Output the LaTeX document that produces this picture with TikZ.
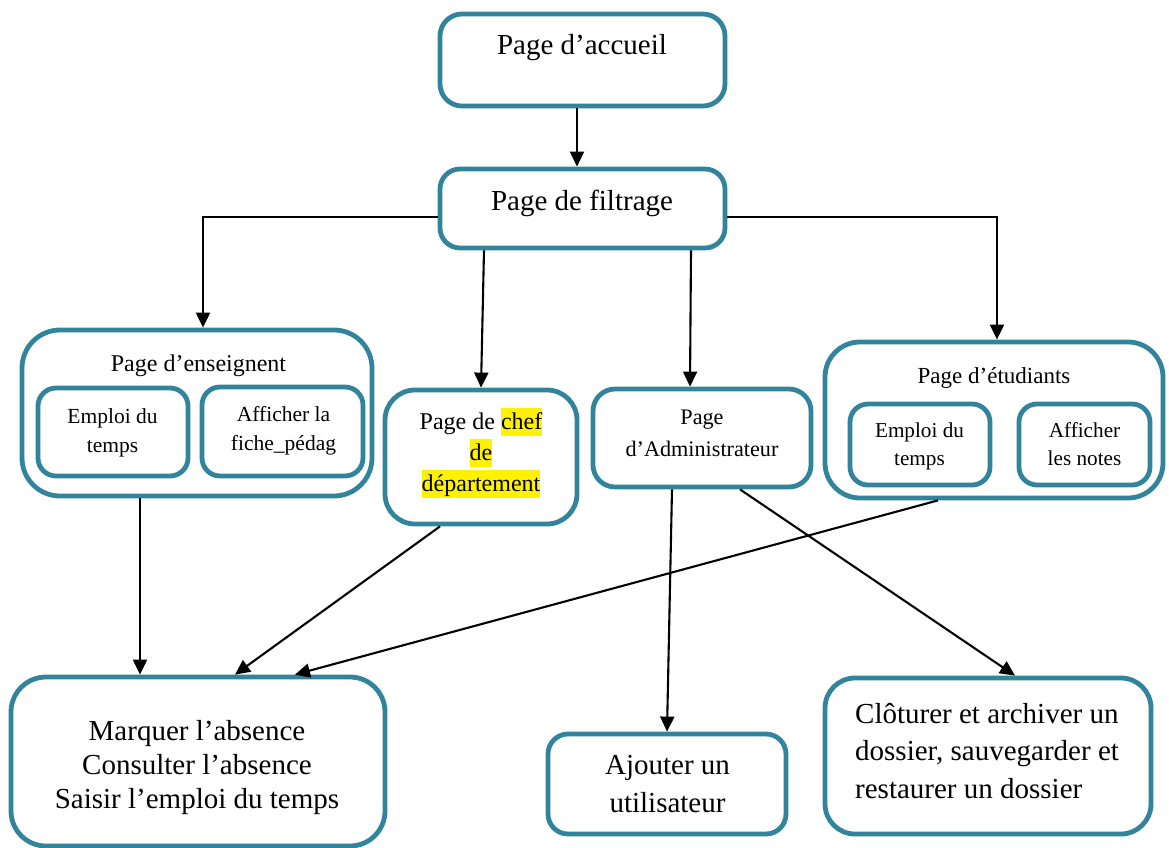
\documentclass[tikz,border=0pt]{standalone}
\usepackage{fontspec}
\setmainfont{Liberation Serif}
\usetikzlibrary{arrows.meta,calc}
\definecolor{frame}{HTML}{31849B}
% yellow highlight behind a word, with a fixed strut height
\newcommand\hlt[1]{{\setlength{\fboxsep}{0pt}\colorbox{yellow}{\rule[-7bp]{0pt}{28bp}#1}}}

\begin{document}
\begin{tikzpicture}[x=1bp,y=-1bp,
  box/.style={draw=frame, line width=4.8bp, fill=white, inner sep=0pt, rounded corners=#1},
  box/.default=20bp,
  lbl/.style={inner sep=0pt, align=center},
  link/.style={line width=2.1bp, -{Triangle[length=15bp,width=14bp]}},
]
\useasboundingbox (0,0) rectangle (1169,848);

% entry and filter pages
\node[box=22bp, minimum width=285bp, minimum height=92bp] (acc) at (582.5,60) {};
\node[font=\fontsize{29bp}{34bp}\selectfont, inner sep=0pt, anchor=base] (accT) at (582,54) {Page d’accueil};
\node[box, minimum width=285bp, minimum height=79bp] (fil) at (582.5,208.5) {};
\node[font=\fontsize{29bp}{34bp}\selectfont, inner sep=0pt, anchor=base] (filT) at (582,210) {Page de filtrage};

% teacher page
\node[box=38bp, minimum width=350bp, minimum height=166bp] (ens) at (197,413) {};
\node[font=\fontsize{24bp}{29bp}\selectfont, inner sep=0pt, anchor=base] (ensT) at (198.5,371) {Page d’enseignent};
\node[box=18bp, minimum width=150bp, minimum height=88bp] (ensA) at (113,432) {};
\node[font=\fontsize{21.5bp}{29bp}\selectfont, lbl] (ensAT) at (112.5,432.5) {Emploi du\\temps};
\node[box=18bp, minimum width=161bp, minimum height=89bp] (ensB) at (282.5,431.5) {};
\node[font=\fontsize{21.5bp}{29bp}\selectfont, lbl] (ensBT) at (283.5,430.8) {Afficher la\\fiche\_pédag};

% head of department page
\node[box=30bp, minimum width=192bp, minimum height=134bp] (chef) at (481,457) {};
\node[font=\fontsize{24bp}{31bp}\selectfont, lbl] (chefT) at (481,453) {Page de \hlt{chef}\\\hlt{de}\\\hlt{département}};

% administrator page
\node[box=22bp, minimum width=218bp, minimum height=98bp] (adm) at (702,438) {};
\node[font=\fontsize{22.2bp}{32bp}\selectfont, lbl] (admT) at (702,433.5) {Page\\d’Administrateur};

% student page
\node[box=35bp, minimum width=338bp, minimum height=156bp] (etu) at (994,420) {};
\node[font=\fontsize{23bp}{28bp}\selectfont, inner sep=0pt, anchor=base] (etuT) at (994,383) {Page d’étudiants};
\node[box=18bp, minimum width=140bp, minimum height=81bp] (etuA) at (920,444.5) {};
\node[font=\fontsize{21.2bp}{28bp}\selectfont, lbl] (etuAT) at (919.5,446.2) {Emploi du\\temps};
\node[box=18bp, minimum width=131bp, minimum height=81bp] (etuB) at (1084.5,444.5) {};
\node[font=\fontsize{21.2bp}{28bp}\selectfont, lbl] (etuBT) at (1084.5,443.9) {Afficher\\les notes};

% actions
\node[box=35bp, minimum width=374bp, minimum height=169bp] (mar) at (198,761.5) {};
\node[font=\fontsize{29bp}{34bp}\selectfont, lbl] (marT) at (197,767.3) {Marquer l’absence\\Consulter l’absence\\Saisir l’emploi du temps};
\node[box=20bp, minimum width=238bp, minimum height=100bp] (ajo) at (667,784) {};
\node[font=\fontsize{29bp}{38bp}\selectfont, lbl] (ajoT) at (667.5,784.1) {Ajouter un\\utilisateur};
\node[box=30bp, minimum width=326bp, minimum height=156bp] (clo) at (988,756) {};
\node[font=\fontsize{29bp}{37.5bp}\selectfont, inner sep=0pt, align=left, anchor=west] (cloT) at (855,750.6) {Clôturer et archiver un\\dossier, sauvegarder et\\restaurer un dossier};

% connectors
\draw[link] ($(acc.south)+(-5.5,0)$) -- ($(fil.north)+(-5.5,0)$);
\draw[link] ($(fil.west)+(0,8.5)$) -| ($(ens.north)+(6,0)$);
\draw[link] ($(fil.east)+(0,8.5)$) -| ($(etu.north)+(3,0)$);
\draw[link] ($(fil.south)+(-98.5,0)$) -- (chef.north);
\draw[link] ($(fil.south)+(108.5,0)$) -- ($(adm.north)+(-12,0)$);
\draw[link] ($(ens.south)+(-57,0)$) -- ($(mar.north)+(-58,0)$);
\draw[link] ($(chef.south)+(-41,0)$) -- ($(mar.north)+(37,0)$);
\draw[link] ($(etu.south)+(-56,0)$) -- ($(mar.north)+(97,0)$);
\draw[link] ($(adm.south)+(-30,0)$) -- (ajo.north);
\draw[link] ($(adm.south)+(38,0)$) -- ($(clo.north)+(27,0)$);
\end{tikzpicture}
\end{document}
